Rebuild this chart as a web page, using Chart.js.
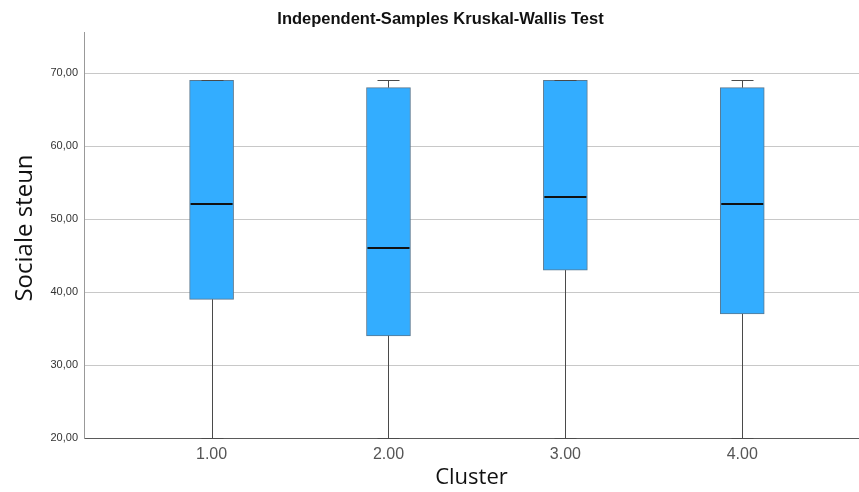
<!DOCTYPE html>
<html>
<head>
<meta charset="utf-8">
<script src="https://cdn.jsdelivr.net/npm/chart.js@4/dist/chart.umd.min.js"></script>
<style>
  html, body { margin: 0; padding: 0; background: #ffffff; }
  #wrap { width: 859px; height: 492px; }
</style>
</head>
<body>
<div id="wrap"><canvas id="chart" width="859" height="492"></canvas></div>
<script>
// Box plot of "Sociale steun" per cluster
const chartTitle = 'Independent-Samples Kruskal-Wallis Test';
const yTitle = 'Sociale steun';
const xTitle = 'Cluster';
const clusters = [1, 2, 3, 4];
const minima   = [20, 20, 20, 20];
const q1       = [39, 34, 43, 37];
const medians  = [52, 46, 53, 52];
const q3       = [69, 68, 69, 68];
const maxima   = [69, 69, 69, 69];
const yTicks   = [20, 30, 40, 50, 60, 70];

const boxData = clusters.map((c, i) => ({ x: c, y: [q1[i], q3[i]] }));

// Whiskers, caps and medians drawn on top of the floating bars
const whiskerPlugin = {
  id: 'whiskers',
  afterDatasetsDraw(chart) {
    const { ctx } = chart;
    const ys = chart.scales.y;
    const meta = chart.getDatasetMeta(0);
    ctx.save();
    meta.data.forEach((bar, i) => {
      const cx = Math.round(bar.x) + 0.5;
      const half = bar.width / 2;
      const capHalf = half / 2;
      const yMin = Math.round(ys.getPixelForValue(minima[i])) + 0.5;
      const yQ1 = ys.getPixelForValue(q1[i]);
      const yQ3 = ys.getPixelForValue(q3[i]);
      const yMax = Math.round(ys.getPixelForValue(maxima[i])) + 0.5;
      ctx.strokeStyle = '#4a4a4a';
      ctx.lineWidth = 1;
      ctx.beginPath();
      if (yMin > yQ1) { ctx.moveTo(cx, yMin); ctx.lineTo(cx, yQ1); }
      if (yMax < yQ3) { ctx.moveTo(cx, yQ3); ctx.lineTo(cx, yMax); }
      ctx.moveTo(cx - capHalf, yMin); ctx.lineTo(cx + capHalf, yMin);
      ctx.moveTo(cx - capHalf, yMax); ctx.lineTo(cx + capHalf, yMax);
      ctx.stroke();
      const yMed = Math.round(ys.getPixelForValue(medians[i]));
      ctx.strokeStyle = '#111111';
      ctx.lineWidth = 2;
      ctx.beginPath();
      ctx.moveTo(bar.x - half + 1, yMed);
      ctx.lineTo(bar.x + half - 1, yMed);
      ctx.stroke();
    });
    ctx.restore();
  }
};

// Heading above the plot and the rotated value-axis caption
const headingPlugin = {
  id: 'heading',
  afterDraw(chart) {
    const { ctx } = chart;
    ctx.save();
    ctx.font = 'bold 16.5px "Liberation Sans", Arial, sans-serif';
    ctx.fillStyle = '#111111';
    ctx.textAlign = 'center';
    ctx.textBaseline = 'alphabetic';
    ctx.fillText(chartTitle, 440.5, 24);

    ctx.font = '24px "Open Sans", sans-serif';
    ctx.translate(32, 228);
    ctx.rotate(-Math.PI / 2);
    ctx.fillText(yTitle, 0, 0);
    ctx.restore();
  }
};

new Chart(document.getElementById('chart'), {
  type: 'bar',
  data: {
    datasets: [{
      data: boxData,
      backgroundColor: '#33adff',
      borderColor: '#5a7890',
      borderWidth: 1,
      borderSkipped: false,
      barThickness: 44
    }]
  },
  options: {
    responsive: false,
    animation: false,
    devicePixelRatio: 1,
    layout: { padding: { top: 32, right: 0, bottom: 0, left: 0 } },
    plugins: {
      legend: { display: false },
      tooltip: { enabled: false },
      title: { display: false }
    },
    scales: {
      x: {
        type: 'linear',
        offset: false,
        min: 0.2787,
        max: 4.66,
        afterBuildTicks(scale) { scale.ticks = clusters.map(v => ({ value: v })); },
        afterFit(scale) { scale.height = 54; },
        grid: { display: false, drawTicks: false, offset: false },
        border: { color: '#5a5a5a', width: 1 },
        ticks: {
          padding: 7,
          color: '#555555',
          font: { family: '"Liberation Sans", Arial, sans-serif', size: 16 },
          callback: v => Number(v).toFixed(2)
        },
        title: {
          display: true,
          text: xTitle,
          color: '#111111',
          font: { family: '"Open Sans", sans-serif', size: 22 },
          padding: { top: 0, bottom: 1 }
        }
      },
      y: {
        min: 20,
        max: 75.62,
        afterBuildTicks(scale) { scale.ticks = yTicks.map(v => ({ value: v })); },
        afterFit(scale) { scale.width = 84; },
        grid: { color: '#c8c8c8', lineWidth: 1, drawTicks: false },
        border: { color: '#999999', width: 1 },
        ticks: {
          padding: 6,
          color: '#333333',
          font: { family: '"Liberation Sans", Arial, sans-serif', size: 11 },
          callback: v => Number(v).toFixed(2).replace('.', ',')
        },
        title: { display: false }
      }
    }
  },
  plugins: [whiskerPlugin, headingPlugin]
});
</script>
</body>
</html>
